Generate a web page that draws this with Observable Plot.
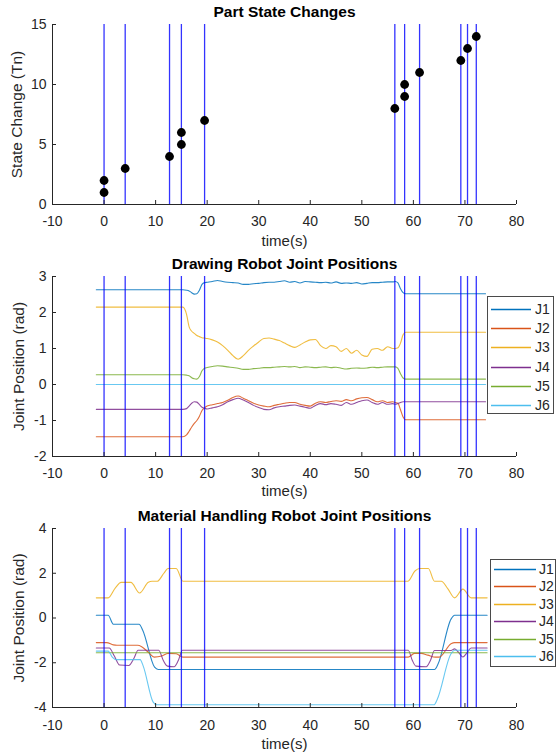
<!DOCTYPE html>
<html><head><meta charset="utf-8">
<script src="https://cdn.jsdelivr.net/npm/d3@7"></script>
<script src="https://cdn.jsdelivr.net/npm/@observablehq/plot@0.6"></script>
<style>
body{margin:0;background:#fff;font-family:"Liberation Sans",Arial,Helvetica,sans-serif;}
#wrap{position:relative;width:556px;height:752px;overflow:hidden;}
#wrap > svg{display:block;}
.legend{position:absolute;}
</style></head><body><div id="wrap"></div>
<script>
// ---------- data ----------
const xTicks = [-10, 0, 10, 20, 30, 40, 50, 60, 70, 80];
const stateTicks = [0, 5, 10, 15];
const drawTicks = [-2, -1, 0, 1, 2, 3];
const matTicks = [-4, -2, 0, 2, 4];
const jointNames = ["J1", "J2", "J3", "J4", "J5", "J6"];
const jointColors = ["#0072BD", "#D95319", "#EDB120", "#7E2F8E", "#77AC30", "#4DBEEE"];

const eventTimes = [0, 4.1, 12.7, 15, 19.5, 56.4, 58.3, 61.2, 69.2, 70.5, 72.2];
const stateTimes = [0, 0, 4.1, 12.7, 15, 15, 19.5, 56.4, 58.3, 58.3, 61.2, 69.2, 70.5, 72.2];
const stateValues = [1, 2, 3, 4, 5, 6, 7, 8, 9, 10, 11, 12, 13, 14];

// Drawing robot
const drawT = [-1.5, 15.3, 16, 16.5, 17, 17.5, 18, 18.5, 19, 19.5,
  20, 21, 22, 23, 24, 25, 26, 27, 28, 29,
  30, 31, 32, 33, 34, 35, 36, 37, 38, 39,
  40, 41, 42, 43, 44, 45, 46, 47, 48, 49,
  50, 51, 52, 53, 54, 55, 56,
  56.5, 57, 57.5, 58, 58.5, 74];
const drawJ1 = [2.63, 2.63, 2.62, 2.6, 2.55, 2.51, 2.52, 2.62, 2.78, 2.83,
  2.84, 2.86, 2.89, 2.86, 2.84, 2.83, 2.82, 2.78, 2.78, 2.8,
  2.81, 2.83, 2.84, 2.84, 2.86, 2.88, 2.84, 2.86, 2.82, 2.86,
  2.85, 2.84, 2.83, 2.84, 2.82, 2.85, 2.81, 2.82, 2.81, 2.83,
  2.79, 2.81, 2.83, 2.83, 2.84, 2.85, 2.85,
  2.86, 2.82, 2.66, 2.55, 2.52, 2.52];
const drawJ2 = [-1.45, -1.45, -1.4, -1.3, -1.18, -1.08, -1.0, -0.88, -0.72, -0.65,
  -0.6, -0.56, -0.53, -0.5, -0.44, -0.36, -0.32, -0.38, -0.45, -0.52,
  -0.57, -0.6, -0.62, -0.58, -0.55, -0.52, -0.5, -0.5, -0.55, -0.58,
  -0.6, -0.52, -0.48, -0.5, -0.47, -0.45, -0.47, -0.42, -0.45, -0.4,
  -0.37, -0.36, -0.42, -0.48, -0.45, -0.5, -0.48,
  -0.5, -0.52, -0.7, -0.9, -0.98, -0.98];
const drawJ3 = [2.15, 2.15, 1.95, 1.6, 1.48, 1.42, 1.36, 1.33, 1.3, 1.29,
  1.28, 1.24, 1.18, 1.08, 0.95, 0.8, 0.7, 0.8, 0.95, 1.07,
  1.18, 1.28, 1.29, 1.26, 1.22, 1.15, 1.08, 1.03, 1.1, 1.18,
  1.24, 1.25, 1.08, 1.0, 1.08, 1.05, 0.92, 1.0, 0.87, 0.95,
  0.82, 0.78, 0.98, 1.0, 0.95, 1.05, 1.0,
  1.0, 1.02, 1.15, 1.38, 1.45, 1.45];
const drawJ4 = [-0.69, -0.69, -0.67, -0.6, -0.52, -0.48, -0.49, -0.56, -0.63, -0.66,
  -0.68, -0.65, -0.62, -0.56, -0.48, -0.42, -0.38, -0.43, -0.5, -0.58,
  -0.64, -0.69, -0.7, -0.65, -0.62, -0.6, -0.58, -0.57, -0.6, -0.63,
  -0.66, -0.58, -0.53, -0.56, -0.53, -0.55, -0.58, -0.5, -0.55, -0.5,
  -0.45, -0.43, -0.5, -0.55, -0.5, -0.55, -0.53,
  -0.55, -0.53, -0.5, -0.48, -0.48, -0.48];
const drawJ5 = [0.27, 0.27, 0.26, 0.24, 0.19, 0.16, 0.15, 0.22, 0.38, 0.45,
  0.47, 0.5, 0.52, 0.51, 0.49, 0.47, 0.45, 0.42, 0.42, 0.44,
  0.45, 0.47, 0.47, 0.48, 0.49, 0.5, 0.49, 0.5, 0.47, 0.49,
  0.48, 0.47, 0.48, 0.49, 0.47, 0.48, 0.45, 0.43, 0.45, 0.46,
  0.45, 0.46, 0.48, 0.47, 0.48, 0.49, 0.49,
  0.49, 0.45, 0.3, 0.18, 0.15, 0.15];
const drawJ6T = [-1.5, 74];
const drawJ6 = [0, 0];

// Material handling robot
const matJ1T = [-1.5, 0.8, 1.8, 6.8, 7.5, 9.8, 10.5, 64.1, 64.8, 67.3, 68.0, 74.3];
const matJ1 = [0.12, 0.12, -0.28, -0.28, -0.55, -2.2, -2.3, -2.3, -2.05, -0.05, 0.12, 0.12];
const matJ2T = [-1.5, 0.5, 1.8, 2.5, 6.5, 7.3, 8.8, 9.7, 11.2, 12.4, 14.0, 15.3, 59.0, 60.2, 61.5, 62.8, 64.3, 65.0, 67.3, 68.0, 74.3];
const matJ2 = [-1.1, -1.1, -1.2, -1.22, -1.22, -1.28, -1.58, -1.75, -1.7, -1.58, -1.6, -1.75, -1.75, -1.58, -1.58, -1.66, -1.75, -1.75, -1.15, -1.1, -1.1];
const matJ3T = [-1.5, 0.8, 2.2, 3.3, 5.2, 6.9, 8.6, 9.3, 10.3, 11.6, 12.4, 14.0, 15.3, 58.9, 60.3, 61.2, 62.9, 64.1, 65.4, 66.7, 68.0, 69.6, 71.2, 74.3];
const matJ3 = [0.9, 0.9, 1.35, 1.59, 1.59, 1.12, 1.6, 1.64, 1.64, 2.0, 2.21, 2.21, 1.64, 1.64, 2.1, 2.21, 2.21, 1.64, 1.64, 1.3, 0.9, 1.29, 0.9, 0.9];
const matJ4T = [-1.5, 1.0, 2.0, 3.0, 4.8, 5.8, 6.6, 10.6, 11.5, 12.3, 13.6, 14.4, 15.2, 59.0, 59.8, 60.5, 62.5, 63.3, 64.1, 67.3, 68.0, 68.8, 69.6, 70.4, 71.2, 74.3];
const matJ4 = [-1.34, -1.34, -1.7, -2.1, -2.12, -1.8, -1.44, -1.44, -1.9, -2.15, -2.18, -1.9, -1.44, -1.44, -1.9, -2.15, -2.18, -1.9, -1.45, -1.45, -1.38, -1.55, -1.74, -1.55, -1.34, -1.34];
const matJ5T = [-1.5, 74.3];
const matJ5 = [-1.55, -1.55];
const matJ6T = [-1.5, 0.8, 1.6, 2.3, 7.0, 7.6, 9.5, 10.2, 64.0, 64.6, 67.3, 68.0, 74.3];
const matJ6 = [-1.48, -1.48, -1.75, -1.86, -1.86, -2.15, -3.75, -3.88, -3.88, -3.65, -1.6, -1.44, -1.44];

// ---------- helpers ----------
const W = 556, ML = 52, MR = 40;
const FONT = '"Liberation Sans", Arial, Helvetica, sans-serif';
const AX = "#262626";
const rows = (t, v) => t.map((tt, i) => ({t: tt, v: v[i]}));

function panel({height, marginTop, marginBottom, yTicks, title, ylabel, labelDx, xlabDy, tickPad, data, dots}) {
  const plotH = height - marginTop - marginBottom;
  const plotW = W - ML - MR;
  return Plot.plot({
    width: W, height, marginTop, marginBottom, marginLeft: ML, marginRight: MR,
    style: {fontFamily: FONT, fontSize: "14px", color: AX, background: "transparent", overflow: "visible"},
    x: {domain: [xTicks[0], xTicks[xTicks.length - 1]]},
    y: {domain: [yTicks[0], yTicks[yTicks.length - 1]]},
    marks: [
      ...data,
      Plot.ruleX(eventTimes, {x: d => d, stroke: "#0000ff", strokeWidth: 1.3, strokeOpacity: 0.8}),
      ...(dots || []),
      Plot.ruleY([yTicks[0]], {stroke: AX}),
      Plot.ruleX([xTicks[0]], {stroke: AX}),
      Plot.ruleX(xTicks, {x: d => d, insetTop: plotH - 4, stroke: AX}),
      Plot.ruleY(yTicks, {y: d => d, insetRight: plotW - 4, stroke: AX}),
      Plot.axisX({ticks: xTicks, tickSize: 0, tickPadding: tickPad, label: null, tickFormat: d => String(d), fontSize: 14}),
      Plot.axisY({ticks: yTicks, tickSize: 0, tickPadding: 6, label: null, tickFormat: d => String(d), fontSize: 14}),
      Plot.text([title], {frameAnchor: "top", lineAnchor: "middle", dy: -12, text: d => d, fontWeight: "bold", fontSize: 15.5, fill: "#000"}),
      Plot.text([ylabel], {frameAnchor: "left", textAnchor: "middle", lineAnchor: "middle", dx: -labelDx, text: d => d, rotate: -90, fontSize: 15.5, fill: AX}),
      Plot.text(["time(s)"], {frameAnchor: "bottom", lineAnchor: "middle", dy: xlabDy, text: d => d, fontSize: 15, fill: AX})
    ]
  });
}

function jointLines(series) {
  return series.map(([t, v], i) => Plot.line(rows(t, v), {x: "t", y: "v", stroke: jointColors[i], strokeWidth: 1.1, strokeOpacity: 0.85, curve: "monotone-x"}));
}

const wrap = document.getElementById("wrap");

wrap.append(panel({
  height: 250, marginTop: 24, marginBottom: 46, yTicks: stateTicks,
  title: "Part State Changes", ylabel: "State Change (Tn)", labelDx: 35, xlabDy: 37, tickPad: 12,
  data: [],
  dots: [Plot.dot(rows(stateTimes, stateValues), {x: "t", y: "v", r: 4.4, fill: "#000", stroke: "none"})]
}));

wrap.append(panel({
  height: 252, marginTop: 26, marginBottom: 46, yTicks: drawTicks,
  title: "Drawing Robot Joint Positions", ylabel: "Joint Position (rad)", labelDx: 33, xlabDy: 35, tickPad: 12,
  data: jointLines([[drawT, drawJ1], [drawT, drawJ2], [drawT, drawJ3], [drawT, drawJ4], [drawT, drawJ5], [drawJ6T, drawJ6]])
}));

wrap.append(panel({
  height: 250, marginTop: 26, marginBottom: 45, yTicks: matTicks,
  title: "Material Handling Robot Joint Positions", ylabel: "Joint Position (rad)", labelDx: 33, xlabDy: 37, tickPad: 13,
  data: jointLines([[matJ1T, matJ1], [matJ2T, matJ2], [matJ3T, matJ3], [matJ4T, matJ4], [matJ5T, matJ5], [matJ6T, matJ6]])
}));

// ---------- legends (MATLAB-style boxes) ----------
function legend(left, top, w, h, first, step, lx0, lx1, tx) {
  const svg = d3.create("svg")
    .attr("class", "legend")
    .attr("width", w).attr("height", h)
    .style("left", left + "px").style("top", top + "px");
  svg.append("rect").attr("x", 0.5).attr("y", 0.5).attr("width", w - 1).attr("height", h - 1)
    .attr("fill", "#fff").attr("stroke", "#4a4a4a").attr("stroke-width", 1);
  const g = svg.selectAll("g").data(jointNames).join("g")
    .attr("transform", (d, i) => `translate(0,${Math.round(first + i * step) + 0.5})`);
  g.append("line").attr("x1", lx0).attr("x2", lx1).attr("y1", 0).attr("y2", 0)
    .attr("stroke", (d, i) => jointColors[i]).attr("stroke-width", 1.3);
  g.append("text").attr("x", tx).attr("y", 0).attr("dy", "0.35em")
    .attr("font-family", FONT).attr("font-size", 14).attr("fill", AX).text(d => d);
  wrap.append(svg.node());
}
legend(487, 296, 67, 118, 13, 19.2, 4, 44, 48);
legend(490, 559, 66, 108, 10, 17.4, 4, 46, 49);
</script>
</body></html>
